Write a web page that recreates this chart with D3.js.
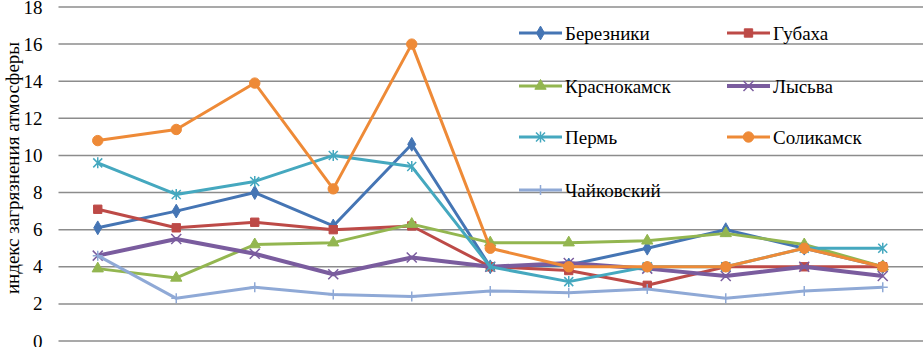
<!DOCTYPE html>
<html>
<head>
<meta charset="utf-8">
<script src="https://cdn.jsdelivr.net/npm/d3@7"></script>
<style>
  body { margin: 0; background: #fff; }
</style>
</head>
<body>
<div id="chart"></div>
<script>
// --------------------------------------
//  Data
// --------------------------------------

const points = [1, 2, 3, 4, 5, 6, 7, 8, 9, 10, 11];
const yTicks = [0, 2, 4, 6, 8, 10, 12, 14, 16, 18];
const yTitle = "индекс загрязнения атмосферы";

const seriesNames = ["Березники", "Губаха", "Краснокамск", "Лысьва", "Пермь", "Соликамск", "Чайковский"];

const berezniki   = [6.1, 7.0, 8.0, 6.2, 10.6, 4.0, 4.1, 5.0, 6.0, 5.0, 4.0];
const gubakha     = [7.1, 6.1, 6.4, 6.0, 6.2, 4.0, 3.8, 3.0, 4.0, 4.0, 4.0];
const krasnokamsk = [3.9, 3.4, 5.2, 5.3, 6.3, 5.3, 5.3, 5.4, 5.8, 5.2, 4.0];
const lysva       = [4.6, 5.5, 4.7, 3.6, 4.5, 4.0, 4.2, 3.9, 3.5, 4.0, 3.5];
const perm        = [9.6, 7.9, 8.6, 10.0, 9.4, 4.0, 3.2, 4.0, 4.0, 5.0, 5.0];
const solikamsk   = [10.8, 11.4, 13.9, 8.2, 16.0, 5.0, 4.0, 4.0, 4.0, 5.0, 4.0];
const chaikovsky  = [4.6, 2.3, 2.9, 2.5, 2.4, 2.7, 2.6, 2.8, 2.3, 2.7, 2.9];

const seriesValues = [berezniki, gubakha, krasnokamsk, lysva, perm, solikamsk, chaikovsky];

// --------------------------------------
//  Styles
// --------------------------------------

const colors  = ["#4575b4", "#bd4a47", "#93b650", "#7a5c9e", "#45a8bf", "#ee8a37", "#8fa9d6"];
const markers = ["diamond", "square", "triangle", "x", "asterisk", "circle", "plus"];
const widths  = [3, 3, 3, 4, 3, 3, 3];

const serif = "'Liberation Serif', 'DejaVu Serif', 'Times New Roman', Times, serif";

const width = 923, height = 347;
const plot = { left: 58.5, right: 922, top: 7, bottom: 341 };

// --------------------------------------
//  Canvas
// --------------------------------------

const svg = d3.select("#chart")
  .append("svg")
    .attr("width", width)
    .attr("height", height)
    .attr("viewBox", [0, 0, width, height])
    .style("font-family", serif);

// --------------------------------------
//  Scales
// --------------------------------------

const x = d3.scalePoint()
    .domain(points)
    .range([plot.left, plot.right])
    .padding(0.5);

const y = d3.scaleLinear()
    .domain([0, 18])
    .range([plot.bottom, plot.top]);

// --------------------------------------
//  Gridlines and axis
// --------------------------------------

svg.append("g")
  .selectAll("line")
  .data(yTicks)
  .join("line")
    .attr("x1", plot.left)
    .attr("x2", width)
    .attr("y1", d => y(d))
    .attr("y2", d => y(d))
    .attr("stroke", "#8c8c8c")
    .attr("stroke-width", 1.5);

svg.append("g")
    .attr("transform", `translate(${plot.left}, 0)`)
    .call(d3.axisLeft(y).tickValues(yTicks).tickSize(0).tickPadding(16))
    .call(g => g.select(".domain").remove())
    .call(g => g.attr("font-family", null).attr("font-size", null))
    .call(g => g.selectAll("text")
        .style("font-family", serif)
        .style("font-size", "19px")
        .attr("fill", "#000"));

svg.append("text")
    .attr("transform", `translate(19, 168) rotate(-90)`)
    .attr("text-anchor", "middle")
    .style("font-family", serif)
    .style("font-size", "19px")
    .text(yTitle);

// --------------------------------------
//  Markers
// --------------------------------------

function markerPath(type) {
  switch (type) {
    case "diamond":  return d3.symbol(d3.symbolDiamond, 55)();
    case "square":   return d3.symbol(d3.symbolSquare, 70)();
    case "triangle": return d3.symbol(d3.symbolTriangle, 55)();
    case "circle":   return d3.symbol(d3.symbolCircle, 85)();
    case "x":        return "M-5,-5L5,5M-5,5L5,-5";
    case "asterisk": return "M-4.5,-4.5L4.5,4.5M-4.5,4.5L4.5,-4.5M0,-5.5L0,5.5";
    case "plus":     return "M0,-5L0,5M-5,0L5,0";
  }
}

const strokeOnly = t => t === "x" || t === "asterisk" || t === "plus";

function drawMarker(g, type, color) {
  g.append("path")
    .attr("d", markerPath(type))
    .attr("fill", strokeOnly(type) ? "none" : color)
    .attr("stroke", color)
    .attr("stroke-width", strokeOnly(type) ? 1.5 : 1);
}

// --------------------------------------
//  Lines
// --------------------------------------

const line = d3.line()
    .x((d, i) => x(points[i]))
    .y(d => y(d));

seriesValues.forEach((vals, s) => {
  const g = svg.append("g");

  g.append("path")
    .datum(vals)
    .attr("d", line)
    .attr("fill", "none")
    .attr("stroke", colors[s])
    .attr("stroke-width", widths[s])
    .attr("stroke-linejoin", "round");

  vals.forEach((v, i) => {
    const m = g.append("g").attr("transform", `translate(${x(points[i])}, ${y(v)})`);
    drawMarker(m, markers[s], colors[s]);
  });
});

// --------------------------------------
//  Legend
// --------------------------------------

const legendRows = [33, 86, 137, 190];
const legendCols = [519, 727];

seriesNames.forEach((name, s) => {
  const lx = legendCols[s % 2];
  const ly = legendRows[Math.floor(s / 2)];
  const g = svg.append("g").attr("transform", `translate(${lx}, ${ly})`);

  g.append("line")
    .attr("x1", 0).attr("x2", 43)
    .attr("stroke", colors[s])
    .attr("stroke-width", widths[s]);

  const m = g.append("g").attr("transform", "translate(21.5, 0)");
  drawMarker(m, markers[s], colors[s]);

  g.append("text")
    .attr("x", 46)
    .attr("y", 0)
    .attr("dy", "0.35em")
    .style("font-family", serif)
    .style("font-size", "19px")
    .attr("fill", "#000")
    .text(name);
});
</script>
</body>
</html>
